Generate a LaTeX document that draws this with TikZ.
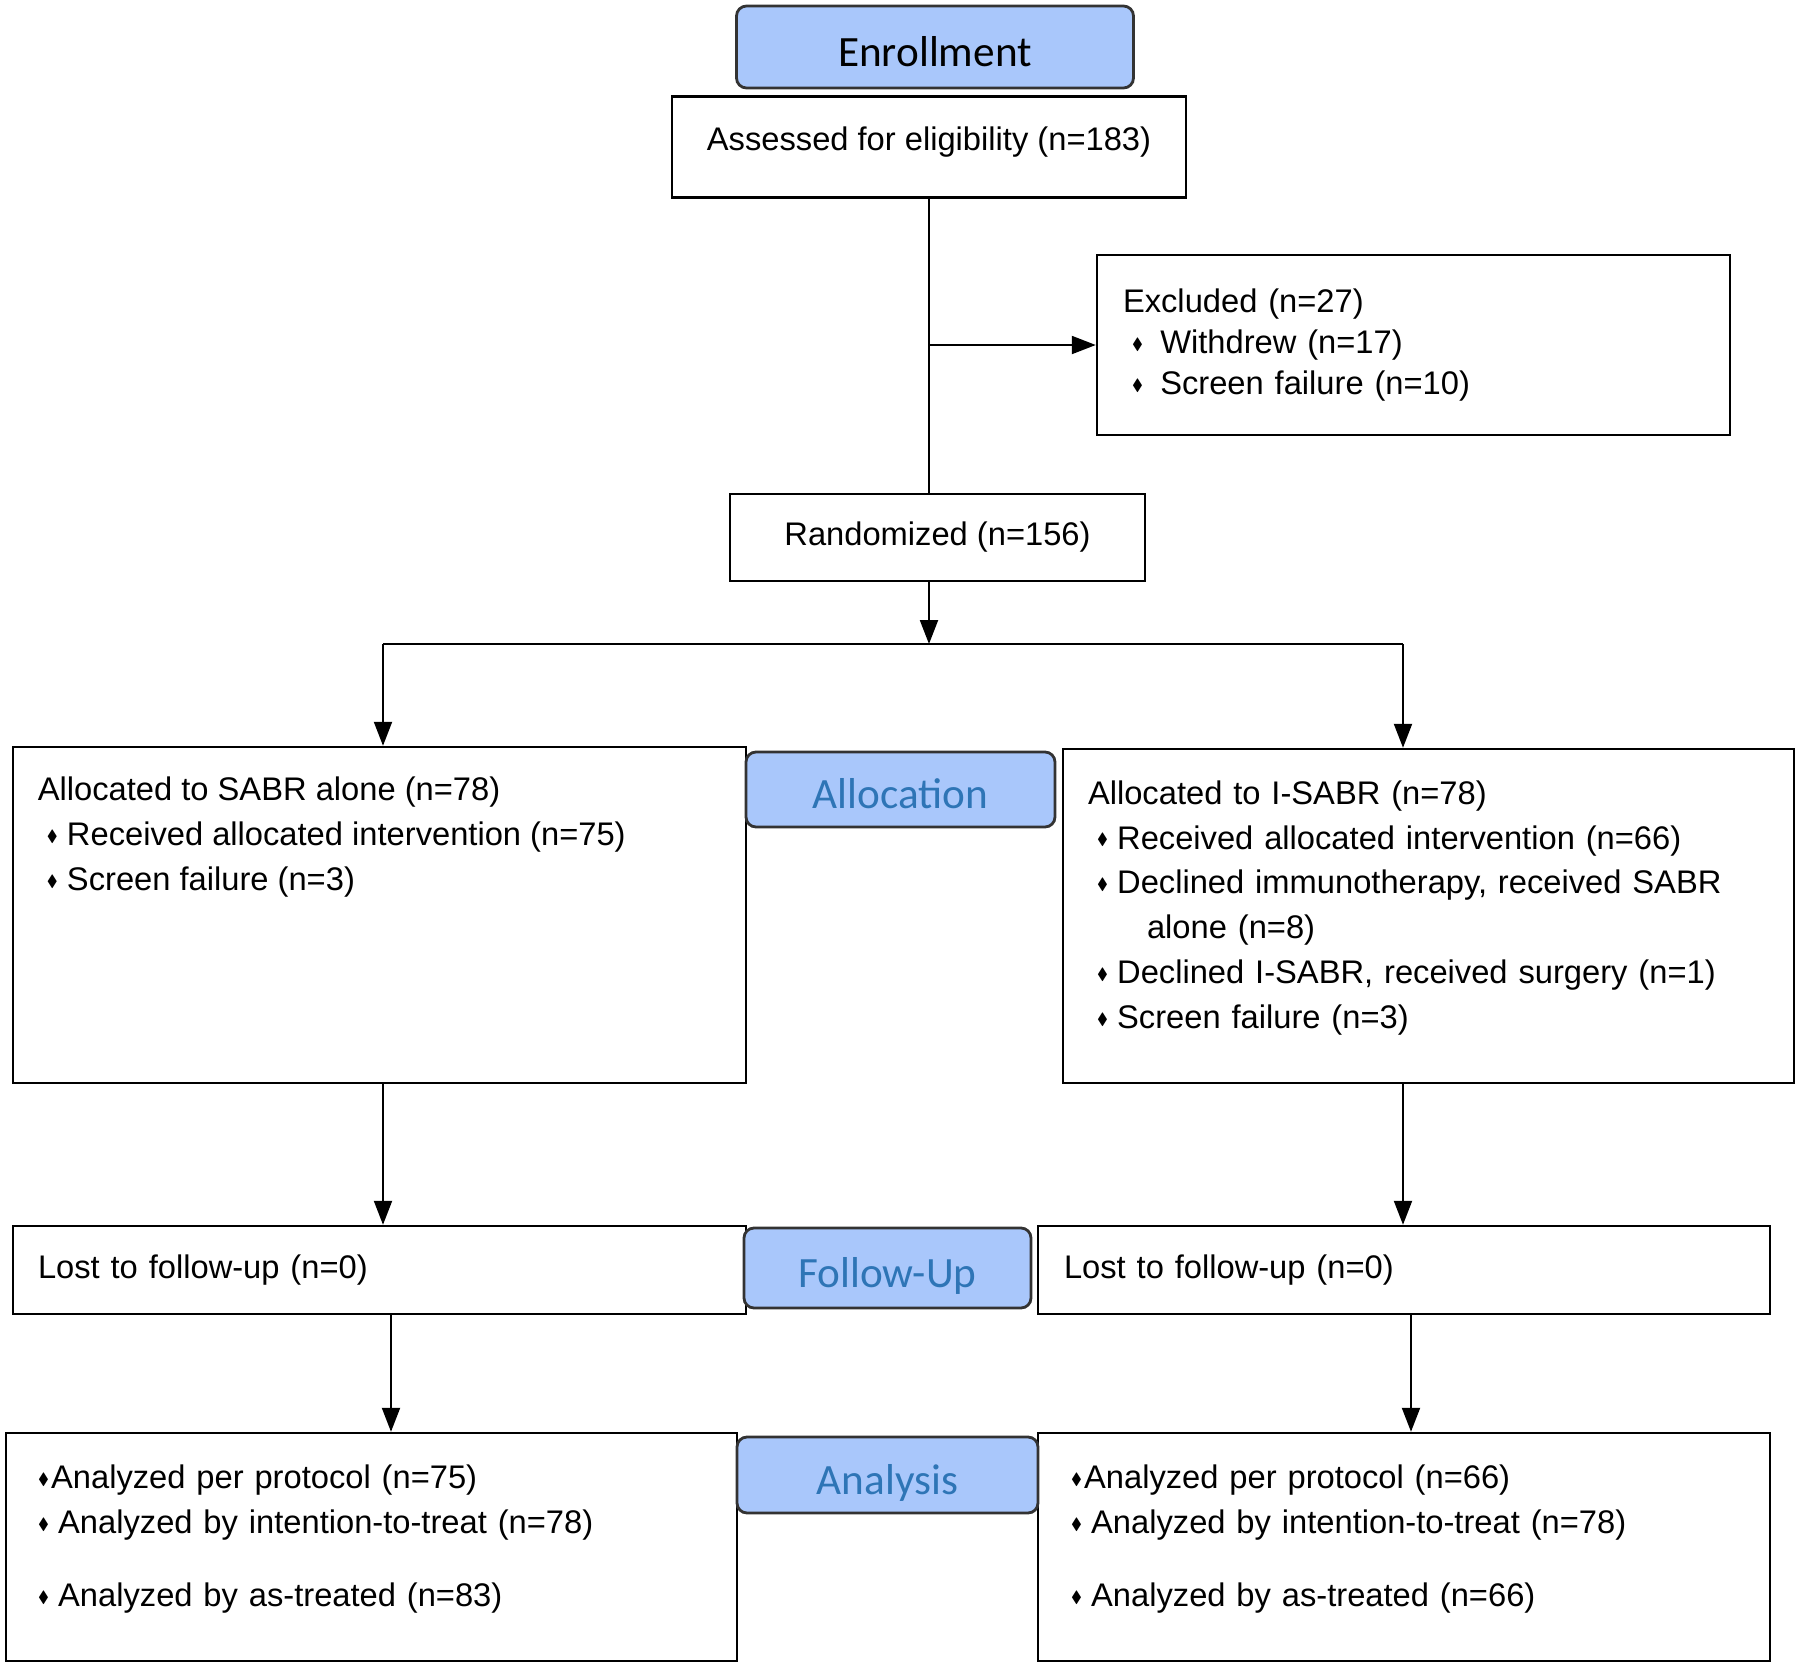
\documentclass[tikz,border=0pt]{standalone}
\usepackage{fontspec}
\usepackage{amssymb}
\setmainfont{Liberation Sans}
\newfontfamily\phasefont{Carlito}
\usetikzlibrary{arrows.meta,positioning}

\definecolor{phasefill}{RGB}{169,199,251}
\definecolor{phasetext}{RGB}{46,117,182}
\newcommand{\dmd}{\raisebox{0.25ex}{\scalebox{0.5}{$\blacklozenge$}}}
\newcommand{\itm}[1][5.7pt]{\hspace*{2.6pt}\makebox[#1][l]{\dmd}}

\begin{document}
\begin{tikzpicture}[>={Triangle[length=2.4mm,width=1.8mm]},line width=0.6pt]
  \tikzset{txt/.style={inner sep=0pt,align=left,font=\fontsize{9.3}{12.8}\selectfont},
    box/.style={txt,draw,line width=0.7pt,inner xsep=0.25cm},
    phase/.style={draw=black!80,line width=0.8pt,fill=phasefill,rounded corners=1mm,
      text=phasetext,text height=11pt,text depth=0pt,
      font=\phasefont\fontsize{12.3}{14}\selectfont}}
  \useasboundingbox (0,0) rectangle (18,-16.68);

  % enrollment
  \node[box,align=center,text depth=4.6pt,minimum width=5.14cm,minimum height=1.01cm] (assess) at (9.29,-1.47) {Assessed for eligibility (n=183)};
  \node[box,font=\fontsize{9.3}{11.7}\selectfont,inner xsep=0.26cm,text width=5.81cm,
    minimum width=6.33cm,minimum height=1.80cm] (excl) at (14.135,-3.45)
    {Excluded (n=27)\\ \itm[8pt]Withdrew (n=17)\\ \itm[8pt]Screen failure (n=10)};
  \node[box,align=center,minimum width=4.15cm,minimum height=0.87cm] (rand) at (9.375,-5.375) {Randomized (n=156)};

  % allocation
  \node[box,minimum width=7.33cm,minimum height=3.36cm] (alloc1) at (3.795,-9.15) {};
  \node[txt,anchor=north west] (alloc1t) at ([shift={(0.25,-0.30)}]alloc1.north west)
    {Allocated to SABR alone (n=78)\\ \itm Received allocated intervention (n=75)\\ \itm Screen failure (n=3)};
  \node[box,text width=6.81cm,text height=2.2pt,minimum width=7.31cm,minimum height=3.34cm] (alloc2) at (14.285,-9.16)
    {Allocated to I-SABR (n=78)\\ \itm Received allocated intervention (n=66)\\
     \itm Declined immunotherapy, received SABR\\ \hspace*{16.8pt}alone (n=8)\\
     \itm Declined I-SABR, received surgery (n=1)\\ \itm Screen failure (n=3)};

  % follow-up
  \node[box,text width=6.83cm,minimum width=7.33cm,minimum height=0.88cm] (lost1) at (3.795,-12.70) {Lost to follow-up (n=0)};
  \node[box,inner xsep=0.26cm,text width=6.80cm,minimum width=7.32cm,minimum height=0.88cm] (lost2) at (14.04,-12.70) {Lost to follow-up (n=0)};

  % analysis
  \node[box,inner xsep=0.23cm,text width=6.85cm,text height=2.2pt,minimum width=7.31cm,minimum height=2.28cm] (anal1) at (3.715,-15.47)
    {\itm[3.7pt]Analyzed per protocol (n=75)\\ \itm Analyzed by intention-to-treat (n=78)\\[8pt]
     \itm Analyzed by as-treated (n=83)};
  \node[box,inner xsep=0.24cm,text width=6.84cm,text height=2.2pt,minimum width=7.32cm,minimum height=2.28cm] (anal2) at (14.04,-15.47)
    {\itm[3.7pt]Analyzed per protocol (n=66)\\ \itm Analyzed by intention-to-treat (n=78)\\[8pt]
     \itm Analyzed by as-treated (n=66)};

  % phase labels
  \node[phase,text=black,minimum width=3.97cm,minimum height=0.82cm] (enroll) at (9.35,-0.47) {Enrollment};
  \node[phase,minimum width=3.09cm,minimum height=0.75cm] (allocph) at (9.005,-7.895) {Allocation};
  \node[phase,minimum width=2.87cm,minimum height=0.80cm] (followph) at (8.875,-12.68) {Follow-Up};
  \node[phase,minimum width=3.01cm,minimum height=0.76cm] (analph) at (8.875,-14.75) {Analysis};

  % connectors
  \coordinate (splitL) at (3.83,-6.44);
  \coordinate (splitR) at (14.03,-6.44);
  \draw (assess.south) -- (assess.south |- rand.north);
  \draw[->] (assess.south |- excl.west) -- (excl.west);
  \draw[->] (rand.south -| assess.south) -- (assess.south |- splitL);
  \draw (splitL) -- (splitR);
  \draw[->] (splitL) -- (splitL |- alloc1.north);
  \draw[->] (splitR) -- (splitR |- alloc2.north);
  \draw[->] (splitL |- alloc1.south) -- (splitL |- lost1.north);
  \draw[->] (splitR |- alloc2.south) -- (splitR |- lost2.north);
  \draw[->] ([xshift=1.15mm]lost1.south) -- ([xshift=1.15mm]lost1.south |- anal1.north);
  \draw[->] ([xshift=0.7mm]lost2.south) -- ([xshift=0.7mm]lost2.south |- anal2.north);
\end{tikzpicture}
\end{document}
